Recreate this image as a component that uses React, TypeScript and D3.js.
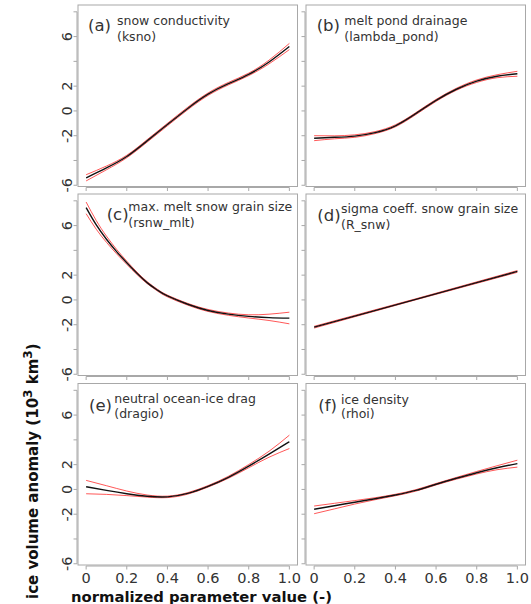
import React from "react";
import * as d3 from "d3";

// ---- data ----
const X11 = [0, 0.1, 0.2, 0.3, 0.4, 0.5, 0.6, 0.7, 0.8, 0.9, 1.0];
const XC = [0, 0.05, 0.1, 0.15, 0.2, 0.25, 0.3, 0.35, 0.4, 0.5, 0.6, 0.7, 0.8, 0.9, 1.0];
const XD = [0, 0.5, 1.0];

const aMean = [-5.4, -4.6, -3.68, -2.42, -1.1, 0.2, 1.35, 2.2, 2.95, 3.95, 5.2];
const aUp = [-5.15, -4.45, -3.58, -2.32, -1.0, 0.3, 1.45, 2.3, 3.05, 4.1, 5.45];
const aLo = [-5.65, -4.75, -3.78, -2.52, -1.2, 0.1, 1.25, 2.1, 2.85, 3.8, 4.95];

const bMean = [-2.2, -2.13, -2.03, -1.75, -1.2, -0.22, 0.85, 1.75, 2.4, 2.8, 3.0];
const bUp = [-2.0, -2.01, -1.93, -1.67, -1.12, -0.14, 0.93, 1.83, 2.5, 2.92, 3.2];
const bLo = [-2.4, -2.25, -2.13, -1.83, -1.28, -0.3, 0.77, 1.67, 2.3, 2.68, 2.8];

const cMean = [7.45, 6.05, 4.9, 3.9, 3.0, 2.15, 1.4, 0.8, 0.32, -0.35, -0.85, -1.15, -1.33, -1.43, -1.47];
const cUp = [7.9, 6.4, 5.15, 4.08, 3.13, 2.25, 1.48, 0.87, 0.39, -0.28, -0.77, -1.06, -1.2, -1.15, -0.99];
const cLo = [6.96, 5.7, 4.65, 3.72, 2.87, 2.05, 1.32, 0.73, 0.25, -0.42, -0.93, -1.24, -1.46, -1.66, -1.93];

const dMean = [-2.2, 0.05, 2.3];
const dUp = [-2.13, 0.09, 2.37];
const dLo = [-2.27, 0.01, 2.23];

const eMean = [0.22, -0.08, -0.35, -0.55, -0.6, -0.32, 0.25, 0.98, 1.88, 2.85, 3.85];
const eUp = [0.73, 0.3, -0.13, -0.45, -0.54, -0.26, 0.31, 1.06, 2.01, 3.08, 4.38];
const eLo = [-0.35, -0.4, -0.5, -0.62, -0.66, -0.38, 0.19, 0.9, 1.75, 2.6, 3.3];

const fMean = [-1.6, -1.32, -1.03, -0.75, -0.45, -0.08, 0.42, 0.9, 1.35, 1.75, 2.08];
const fUp = [-1.34, -1.12, -0.9, -0.67, -0.39, -0.02, 0.48, 0.97, 1.45, 1.91, 2.36];
const fLo = [-1.96, -1.57, -1.18, -0.83, -0.51, -0.14, 0.36, 0.83, 1.25, 1.59, 1.8];

const panelLetters = ["(a)", "(b)", "(c)", "(d)", "(e)", "(f)"];
const panelTitles = [
  "snow conductivity",
  "melt pond drainage",
  "max. melt snow grain size",
  "sigma coeff. snow grain size",
  "neutral ocean-ice drag",
  "ice density",
];
const panelParams = ["(ksno)", "(lambda_pond)", "(rsnw_mlt)", "(R_snw)", "(dragio)", "(rhoi)"];

const yTicks = [-6, -4, -2, 0, 2, 4, 6, 8];
const yTickLabels = [-6, -2, 0, 2, 6];
const xTicks = [0, 0.2, 0.4, 0.6, 0.8, 1.0];
const xTickLabels = ["0", "0.2", "0.4", "0.6", "0.8", "1.0"];

const series = [
  { x: X11, mean: aMean, up: aUp, lo: aLo },
  { x: X11, mean: bMean, up: bUp, lo: bLo },
  { x: XC, mean: cMean, up: cUp, lo: cLo },
  { x: XD, mean: dMean, up: dUp, lo: dLo },
  { x: X11, mean: eMean, up: eUp, lo: eLo },
  { x: X11, mean: fMean, up: fUp, lo: fLo },
];

// ---- layout ----
const W = 531;
const H = 604;
const colLeft = [78, 306];
const colWidth = 219.5;
const rowTop = [5, 194, 383.5];
const rowHeight = 181.5;
// label offsets relative to box (letter dx, text dx, letter dy, title dy, param dy)
const labelPos = [
  { lx: 10, tx: 39, ly: 26, ty: 20.3, py: 36 },
  { lx: 10.7, tx: 38.3, ly: 26, ty: 20, py: 36 },
  { lx: 28.7, tx: 50.3, ly: 26.3, ty: 17.3, py: 33 },
  { lx: 11.3, tx: 35, ly: 27, ty: 19.3, py: 35 },
  { lx: 11, tx: 36.3, ly: 27, ty: 19.3, py: 34.5 },
  { lx: 12.3, tx: 35, ly: 27, ty: 20.3, py: 34.5 },
];

const FONT = "DejaVu Sans, Verdana, sans-serif";
const TXT = "#333";
const GRAY = "#a8a8a8";

function Panel({ i }: { i: number }) {
  const col = i % 2;
  const row = Math.floor(i / 2);
  const x0 = colLeft[col];
  const y0 = rowTop[row];
  const xs = d3.scaleLinear().domain([-0.04, 1.04]).range([x0, x0 + colWidth]);
  const ys = d3.scaleLinear().domain([-6.1, 8.55]).range([y0 + rowHeight, y0]);
  const s = series[i];
  const mk = (vals: number[]) =>
    d3
      .line<number>()
      .x((_, k) => xs(s.x[k]))
      .y((v) => ys(v))
      .curve(d3.curveNatural)(vals) || "";
  const lp = labelPos[i];
  const axX = x0 - 1;
  const axY = y0 + rowHeight + 1;
  return (
    <g>
      <rect x={x0} y={y0} width={colWidth} height={rowHeight} fill="white" stroke={GRAY} strokeWidth={1} />
      {/* y axis */}
      <line x1={axX} x2={axX} y1={ys(-6)} y2={ys(8)} stroke={GRAY} strokeWidth={1} />
      {yTicks.map((t) => (
        <line key={t} x1={axX - 3.5} x2={axX} y1={ys(t)} y2={ys(t)} stroke={GRAY} strokeWidth={1} />
      ))}
      {col === 0 &&
        yTickLabels.map((t) => (
          <text
            key={t}
            transform={`translate(${x0 - 6.5},${ys(t)}) rotate(-90)`}
            textAnchor="middle"
            fontFamily={FONT}
            fontSize={14.5}
            fill={TXT}
          >
            {t}
          </text>
        ))}
      {/* x axis */}
      <line x1={xs(0)} x2={xs(1)} y1={axY} y2={axY} stroke={GRAY} strokeWidth={1} />
      {xTicks.map((t) => (
        <line key={t} x1={xs(t)} x2={xs(t)} y1={axY} y2={axY + 3.5} stroke={GRAY} strokeWidth={1} />
      ))}
      {row === 2 &&
        xTicks.map((t, k) => (
          <text key={t} x={xs(t)} y={582.5} textAnchor="middle" fontFamily={FONT} fontSize={14.5} fill={TXT}>
            {xTickLabels[k]}
          </text>
        ))}
      {/* curves */}
      <path d={mk(s.up)} fill="none" stroke="#ff2020" strokeOpacity={0.75} strokeWidth={1} />
      <path d={mk(s.lo)} fill="none" stroke="#ff2020" strokeOpacity={0.75} strokeWidth={1} />
      <path d={mk(s.mean)} fill="none" stroke="#111" strokeWidth={1.4} />
      {/* labels */}
      <text x={x0 + lp.lx} y={y0 + lp.ly} fontFamily={FONT} fontSize={16.5} fill={TXT}>
        {panelLetters[i]}
      </text>
      <text x={x0 + lp.tx} y={y0 + lp.ty} fontFamily={FONT} fontSize={12.5} fill={TXT}>
        {panelTitles[i]}
      </text>
      <text x={x0 + lp.tx} y={y0 + lp.py} fontFamily={FONT} fontSize={12.5} fill={TXT}>
        {panelParams[i]}
      </text>
    </g>
  );
}

export default function App() {
  return (
    <svg
      width={W}
      height={H}
      viewBox={`0 0 ${W} ${H}`}
      style={{ position: "absolute", left: 0, top: 0, background: "white" }}
    >
      <rect x={0} y={0} width={W} height={H} fill="white" />
      {series.map((_, i) => (
        <Panel key={i} i={i} />
      ))}
      <text
        transform={`translate(38,599) rotate(-90)`}
        textAnchor="start"
        fontFamily={FONT}
        fontSize={15}
        fontWeight="bold"
        fill="#111"
      >
        ice volume anomaly (10
        <tspan fontSize={12} dy={-6}>3</tspan>
        <tspan dy={6}> km</tspan>
        <tspan fontSize={12} dy={-6}>3</tspan>
        <tspan dy={6}>)</tspan>
      </text>
      <text x={71} y={602} fontFamily={FONT} fontSize={14.8} fontWeight="bold" fill="#111">
        normalized parameter value (-)
      </text>
    </svg>
  );
}
